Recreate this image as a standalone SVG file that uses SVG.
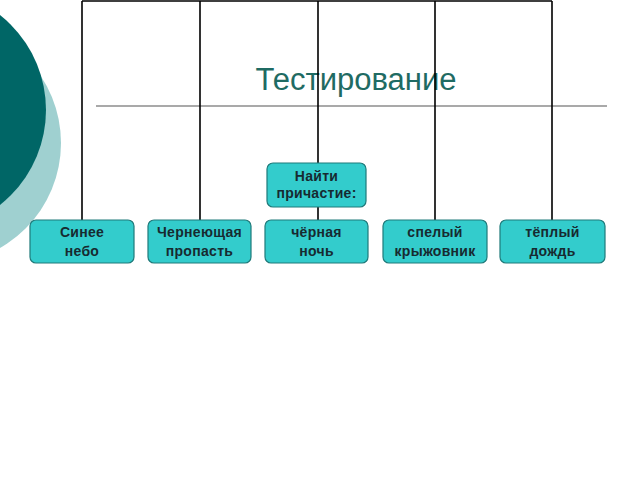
<svg xmlns="http://www.w3.org/2000/svg" width="640" height="480" viewBox="0 0 640 480">
<style>
.box{fill:#33cccc;stroke:#1f7a7a;stroke-width:1.2}
.lbl{font-family:"Liberation Sans",Arial,sans-serif;font-weight:bold;font-size:14px;fill:#172a30;text-anchor:middle;letter-spacing:0.3px}
.con{stroke:#000;stroke-width:1.6;fill:none}
</style>
<rect width="640" height="480" fill="#fff"/>
<circle cx="-60" cy="143" r="121" fill="#9fd0d0"/>
<circle cx="-75" cy="110" r="121" fill="#006666"/>
<line x1="96" y1="106" x2="607" y2="106" stroke="#555" stroke-width="1.2"/>
<text x="356" y="90" font-family="'Liberation Sans',Arial,sans-serif" font-size="31" fill="#1f6b63" text-anchor="middle">Тестирование</text>
<g id="connectors">
<path class="con" d="M82 1H552M82 1V220M200 1V220M318 1V163M318 207V220M435 1V220M552 1V220"/>
</g>
<g id="n0"><rect class="box" x="267" y="163" width="99" height="44" rx="6"/><text class="lbl" x="316.5" y="181">Найти</text><text class="lbl" x="316.5" y="198">причастие:</text></g>
<g id="n1"><rect class="box" x="30" y="220" width="104" height="43" rx="6"/><text class="lbl" x="82" y="237">Синее</text><text class="lbl" x="82" y="256">небо</text></g>
<g id="n2"><rect class="box" x="148" y="220" width="103" height="43" rx="6"/><text class="lbl" x="199.5" y="237">Чернеющая</text><text class="lbl" x="199.5" y="256">пропасть</text></g>
<g id="n3"><rect class="box" x="265" y="220" width="103" height="43" rx="6"/><text class="lbl" x="316.5" y="237">чёрная</text><text class="lbl" x="316.5" y="256">ночь</text></g>
<g id="n4"><rect class="box" x="383" y="220" width="104" height="43" rx="6"/><text class="lbl" x="435" y="237">спелый</text><text class="lbl" x="435" y="256">крыжовник</text></g>
<g id="n5"><rect class="box" x="500" y="220" width="105" height="43" rx="6"/><text class="lbl" x="552.5" y="237">тёплый</text><text class="lbl" x="552.5" y="256">дождь</text></g>
</svg>
